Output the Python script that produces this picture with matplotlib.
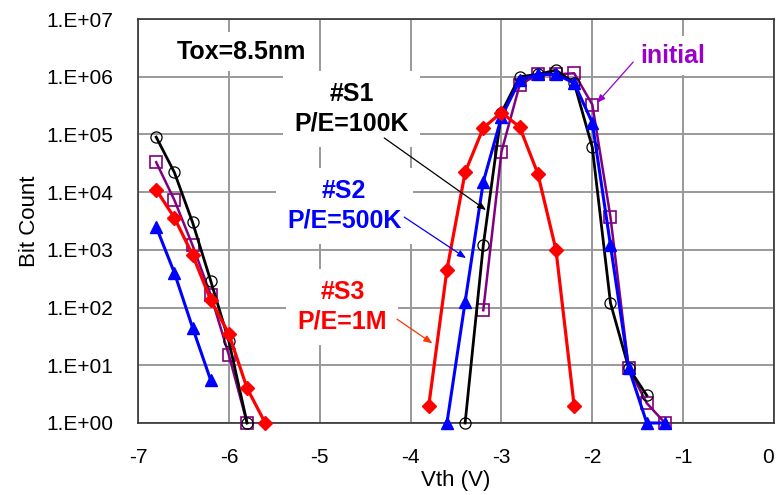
import numpy as np
import matplotlib
matplotlib.use('Agg')
import matplotlib.pyplot as plt
from matplotlib.ticker import FixedLocator, FuncFormatter

plt.rcParams['font.family'] = ['Liberation Sans', 'DejaVu Sans']

# --- measured Vth distributions (bit count per 0.2 V bin) ---
# initial state
init_vth_l = [-6.8, -6.6, -6.4, -6.2, -6.0, -5.8]
init_cnt_l = [3.3e4, 7.3e3, 1.2e3, 165, 15, 1]
init_vth_r = [-3.2, -3.0, -2.8, -2.6, -2.4, -2.2, -2.0, -1.8, -1.6, -1.4, -1.2]
init_cnt_r = [90, 5e4, 7.2e5, 1.1e6, 1.1e6, 1.15e6, 3.3e5, 3.7e3, 9, 2.2, 1]

# #S1  P/E=100K
s1_vth_l = [-6.8, -6.6, -6.4, -6.2, -6.0, -5.8]
s1_cnt_l = [9e4, 2.2e4, 3e3, 290, 26, 1]
s1_vth_r = [-3.4, -3.2, -3.0, -2.8, -2.6, -2.4, -2.2, -2.0, -1.8, -1.6, -1.4]
s1_cnt_r = [1, 1.2e3, 2.4e5, 1e6, 1.1e6, 1.3e6, 7.8e5, 6e4, 120, 9, 3]

# #S2  P/E=500K
s2_vth_l = [-6.8, -6.6, -6.4, -6.2]
s2_cnt_l = [2.5e3, 400, 45, 5.5]
s2_vth_r = [-3.6, -3.4, -3.2, -3.0, -2.8, -2.6, -2.4, -2.2, -2.0, -1.8, -1.6, -1.4, -1.2]
s2_cnt_r = [1, 125, 1.5e4, 2e5, 8.7e5, 1.1e6, 1.1e6, 7.8e5, 1.6e5, 1.2e3, 9, 1, 1]

# #S3  P/E=1M
s3_vth_l = [-6.8, -6.6, -6.4, -6.2, -6.0, -5.8, -5.6]
s3_cnt_l = [1.1e4, 3.6e3, 820, 135, 35, 4, 1]
s3_vth_r = [-3.8, -3.6, -3.4, -3.2, -3.0, -2.8, -2.6, -2.4, -2.2]
s3_cnt_r = [2, 450, 2.2e4, 1.3e5, 2.4e5, 1.35e5, 2.1e4, 1e3, 2]

x_ticks = [-7, -6, -5, -4, -3, -2, -1, 0]
y_ticks = [1e0, 1e1, 1e2, 1e3, 1e4, 1e5, 1e6, 1e7]

fig = plt.figure(figsize=(7.79, 4.95), dpi=100)
ax = fig.add_axes([0.1772, 0.1455, 0.8164, 0.816])

def draw(vl, cl, vr, cr, **kw):
    # two branches (erased / programmed) with a gap between
    x = list(vl) + [np.nan] + list(vr)
    y = list(cl) + [np.nan] + list(cr)
    ax.plot(x, y, clip_on=False, **kw)

draw(init_vth_l, init_cnt_l, init_vth_r, init_cnt_r, color='#800080', lw=1.8,
     marker='s', ms=8, mfc='none', mec='#800080', mew=1.2, zorder=3)
draw(s1_vth_l, s1_cnt_l, s1_vth_r, s1_cnt_r, color='black', lw=2.0,
     marker='o', ms=8, mfc='none', mec='black', mew=0.9, zorder=4)
draw(s2_vth_l, s2_cnt_l, s2_vth_r, s2_cnt_r, color='#0000FF', lw=2.2,
     marker='^', ms=8.5, mfc='#0000FF', mec='#0000FF', zorder=5)
draw(s3_vth_l, s3_cnt_l, s3_vth_r, s3_cnt_r, color='#FF0000', lw=2.3,
     marker='D', ms=7, mfc='#FF0000', mec='#FF0000', zorder=6)

ax.set_yscale('log')
ax.set_xlim(-7, 0)
ax.set_ylim(1, 1e7)
ax.xaxis.set_major_locator(FixedLocator(x_ticks))
ax.yaxis.set_major_locator(FixedLocator(y_ticks))
ax.yaxis.set_minor_locator(FixedLocator([]))
ax.yaxis.set_major_formatter(FuncFormatter(lambda v, p: '1.E+%02d' % int(round(np.log10(v)))))
ax.xaxis.set_major_formatter(FuncFormatter(lambda v, p: '%d' % v))
ax.tick_params(axis='both', length=0, labelsize=15)
ax.tick_params(axis='y', pad=18)
ax.tick_params(axis='x', pad=18)
# last label sits just inside the right edge
ax.get_xticklabels()[-1].set_horizontalalignment('right')
ax.grid(True, color='#999999', lw=1.4)
ax.set_axisbelow(True)
for s in ax.spines.values():
    s.set_color('#333333')
    s.set_linewidth(1.2)

ax.set_xlabel('Vth (V)', fontsize=16, labelpad=2)
ax.set_ylabel('Bit Count', fontsize=16, labelpad=4)

# --- annotations ---
box = dict(boxstyle='square,pad=0.45', fc='white', ec='none')
ax.text(-5.86, 2.7e6, 'Tox=8.5nm', fontsize=18, fontweight='bold', ha='center', va='center',
        bbox=dict(boxstyle='square,pad=0.3', fc='white', ec='none'), zorder=7)
ax.text(-4.65, 2.8e5, '#S1\nP/E=100K', fontsize=18, fontweight='bold', ha='center', va='center',
        linespacing=1.3, color='black', bbox=box, zorder=7)
ax.text(-4.73, 5.8e3, '#S2\nP/E=500K', fontsize=18, fontweight='bold', ha='center', va='center',
        linespacing=1.3, color='#0000FF', bbox=box, zorder=7)
ax.text(-4.75, 102, '#S3\nP/E=1M', fontsize=18, fontweight='bold', ha='center', va='center',
        linespacing=1.3, color='#FF0000', bbox=box, zorder=7)
ax.text(-1.11, 2.3e6, 'initial', fontsize=18, fontweight='bold', ha='center', va='center',
        color='#9900CC', bbox=dict(boxstyle='square,pad=0.3', fc='white', ec='none'), zorder=7)

arrows = [((-4.29, 8.7e4), (-3.17, 4.9e3), 'black'),
          ((-4.07, 3.7e3), (-3.39, 7.2e2), '#0000FF'),
          ((-4.15, 63), (-3.76, 24), '#FF3300'),
          ((-1.55, 1.8e6), (-1.95, 3.5e5), '#9900CC')]
for start, end, c in arrows:
    ax.annotate('', xy=end, xytext=start, zorder=8,
                arrowprops=dict(arrowstyle='-|>,head_length=0.5,head_width=0.2',
                                color=c, lw=0.9, shrinkA=0, shrinkB=0))

fig.savefig('out.png', dpi=100)
